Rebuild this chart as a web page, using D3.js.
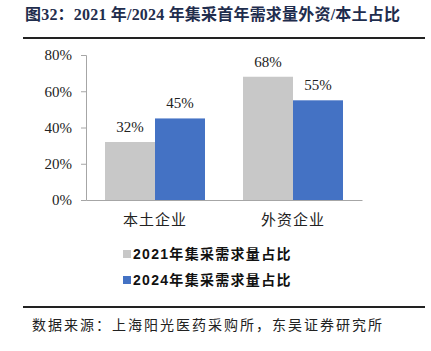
<!DOCTYPE html>
<html>
<head>
<meta charset="utf-8">
<script src="https://cdn.jsdelivr.net/npm/d3@7"></script>
<style>
  body { margin: 0; background: #fff; }
  svg { display: block; }
</style>
</head>
<body>
<div id="chart"></div>
<script>
const categories = ["本土企业", "外资企业"]
const seriesNames = ["2021年集采需求量占比", "2024年集采需求量占比"]
const values2021 = [32, 68]
const values2024 = [45, 55]
const yTicks = [0, 20, 40, 60, 80]

const width = 431
const height = 351
const colors = ["#c8c8c8", "#4472c4"]
const serif = "'Liberation Serif', 'Times New Roman', 'Noto Sans CJK SC', serif"

const svg = d3.select("#chart").append("svg")
  .attr("width", width).attr("height", height)

// Title + rules
svg.append("text").attr("x", 25).attr("y", 20)
  .attr("font-family", serif).attr("font-size", 16).attr("font-weight", 700)
  .attr("letter-spacing", 0.2)
  .attr("fill", "#1f2d4d")
  .text("图32：2021 年/2024 年集采首年需求量外资/本土占比")
svg.append("line").attr("x1", 23).attr("x2", 425).attr("y1", 38).attr("y2", 38)
  .attr("stroke", "#222").attr("stroke-width", 2)
svg.append("line").attr("x1", 23).attr("x2", 425).attr("y1", 307).attr("y2", 307)
  .attr("stroke", "#222").attr("stroke-width", 2)
svg.append("text").attr("x", 32).attr("y", 330)
  .attr("font-family", serif).attr("font-size", 14).attr("letter-spacing", 2)
  .attr("fill", "#222")
  .text("数据来源：上海阳光医药采购所，东吴证券研究所")

// Plot
const x0 = d3.scaleBand().domain(categories).range([86, 362]).paddingInner(0).paddingOuter(0)
const x1 = d3.scaleBand().domain([0, 1]).padding(0)
const y = d3.scaleLinear().domain([0, 80]).range([200, 55])

const data = categories.map((c, i) => ({ cat: c, vals: [values2021[i], values2024[i]] }))
const inner = 100
const offset = (x0.bandwidth() - inner) / 2
x1.range([offset, offset + inner])

// Y axis
const yAxis = svg.append("g").attr("transform", "translate(86,0)")
  .call(d3.axisLeft(y).tickValues(yTicks).tickFormat(d => d + "%").tickSize(5).tickPadding(9))
yAxis.select(".domain").attr("stroke", "#a6a6a6")
yAxis.selectAll(".tick line").attr("stroke", "#a6a6a6")
yAxis.selectAll(".tick text").attr("font-family", serif).attr("font-size", 15).attr("fill", "#222")

const groups = svg.append("g").selectAll("g").data(data).join("g")
  .attr("transform", d => `translate(${x0(d.cat)},0)`)

groups.selectAll("rect").data(d => d.vals.map((v, i) => ({ v, i })))
  .join("rect")
  .attr("x", d => x1(d.i)).attr("width", x1.bandwidth())
  .attr("y", d => y(d.v)).attr("height", d => y(0) - y(d.v))
  .attr("fill", d => colors[d.i])

groups.selectAll("text.val").data(d => d.vals.map((v, i) => ({ v, i })))
  .join("text").attr("class", "val")
  .attr("x", d => x1(d.i) + x1.bandwidth() / 2).attr("y", d => y(d.v) - 10)
  .attr("text-anchor", "middle")
  .attr("font-family", serif).attr("font-size", 15).attr("fill", "#222")
  .text(d => d.v + "%")

// X axis
const xAxis = svg.append("g").attr("transform", "translate(0,200)")
  .call(d3.axisBottom(x0).tickSize(0).tickPadding(14))
xAxis.select(".domain").attr("stroke", "#a6a6a6")
xAxis.selectAll(".tick text").attr("font-family", serif).attr("font-size", 15)
  .attr("letter-spacing", 1).attr("fill", "#222")

// Legend
const legend = svg.append("g").selectAll("g").data(seriesNames).join("g")
  .attr("transform", (d, i) => `translate(123,${254 + i * 26})`)
legend.append("rect").attr("x", 0).attr("y", -4).attr("width", 8).attr("height", 8)
  .attr("fill", (d, i) => colors[i])
legend.append("text").attr("x", 10).attr("y", 0).attr("dy", "0.36em")
  .attr("font-family", "'Liberation Sans', Arial, 'Noto Sans CJK SC', sans-serif")
  .attr("font-size", 14).attr("font-weight", 700).attr("letter-spacing", 1.3).attr("fill", "#111")
  .text(d => d)
</script>
</body>
</html>
